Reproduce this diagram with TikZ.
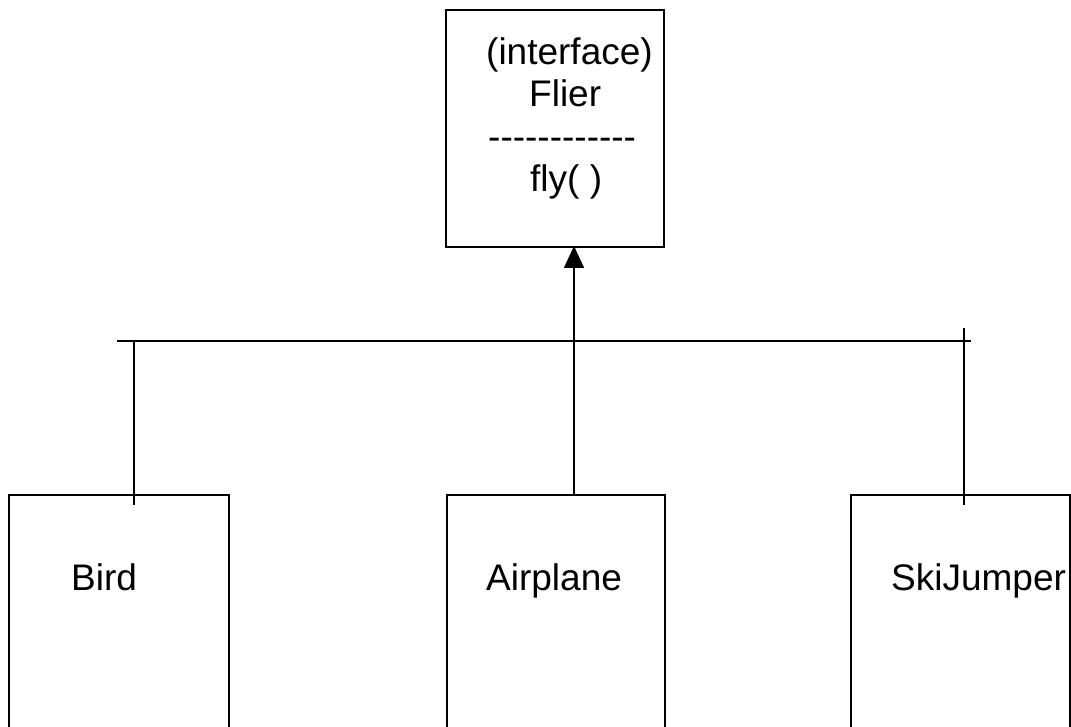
\documentclass[tikz,border=0pt]{standalone}
\usepackage{fontspec}
\setmainfont{Liberation Sans}[Ligatures=TeXOff]
\usetikzlibrary{arrows.meta}
\begin{document}
\begin{tikzpicture}[x=1pt,y=-1pt,
  box/.style={draw,line width=1.6pt,rectangle,inner sep=0pt,anchor=north west},
  lbl/.style={anchor=base west,inner sep=0pt,font=\fontsize{37}{43}\selectfont},
  conn/.style={line width=1.6pt}]
\useasboundingbox (0,0) rectangle (1071,727);
% boxes
\node[box,minimum width=218pt,minimum height=237pt] (flier) at (445,9) {};
\node[box,minimum width=220pt,minimum height=270pt] (bird) at (8,494) {};
\node[box,minimum width=218pt,minimum height=270pt] (airplane) at (446,494) {};
\node[box,minimum width=219pt,minimum height=270pt] (skijumper) at (850,494) {};
% labels
\node[lbl] (t1) at (486,65) {(interface)};
\node[lbl] (t2) at (529,107) {Flier};
\node[lbl] (t3) at (488,150) {------------};
\node[lbl] (t4) at (530,192) {fly( )};
\node[lbl] (tb) at (71,590) {Bird};
\node[lbl] (ta) at (486,590) {Airplane};
\node[lbl] (ts) at (891,590) {SkiJumper};
% connector coordinates
\coordinate (barL) at (117,341);
\coordinate (barR) at (971,341);
\coordinate (jb) at (134,341);
\coordinate (jbend) at (134,505);
\coordinate (js) at (964,328);
\coordinate (jsend) at (964,505);
\coordinate (ja) at (574,494);
\coordinate (fa) at (574,246);
\draw[conn] (barL) -- (barR);
\draw[conn] (jb) -- (jbend);
\draw[conn] (js) -- (jsend);
\draw[conn,-{Triangle[width=20pt,length=22pt]}] (ja) -- (fa);
\end{tikzpicture}
\end{document}
